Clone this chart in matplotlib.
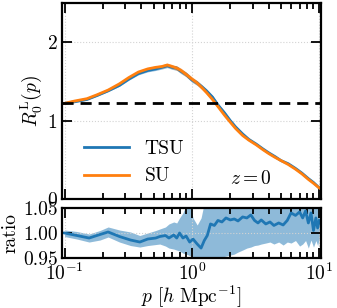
import matplotlib
matplotlib.use("Agg")
import matplotlib.pyplot as plt
import numpy as np
from matplotlib.ticker import FormatStrFormatter

plt.rcParams.update({
    "font.family": "serif",
    "font.serif": ["cmr10"],
    "mathtext.fontset": "cm",
    "axes.formatter.use_mathtext": True,
    "axes.unicode_minus": False,
    "font.size": 14,
})

# main curves
p_main = [0.10, 0.12, 0.15, 0.18, 0.22, 0.27, 0.32, 0.38, 0.45, 0.52, 0.58, 0.64,
          0.70, 0.76, 0.82, 0.90, 1.0, 1.1, 1.2, 1.3, 1.45, 1.6, 1.8, 2.0, 2.2,
          2.5, 2.8, 3.2, 3.6, 4.0, 4.5, 5.0, 5.7, 6.5, 7.3, 8.2, 9.0, 10.0]
R_su = [1.22, 1.25, 1.28, 1.33, 1.39, 1.47, 1.55, 1.62, 1.66, 1.68, 1.69, 1.71,
        1.69, 1.67, 1.64, 1.59, 1.53, 1.48, 1.42, 1.36, 1.27, 1.18, 1.07, 0.98, 0.90,
        0.81, 0.75, 0.69, 0.63, 0.58, 0.53, 0.49, 0.44, 0.38, 0.32, 0.25, 0.20, 0.14]
R_tsu = [1.22, 1.24, 1.27, 1.32, 1.38, 1.45, 1.53, 1.60, 1.64, 1.66, 1.68, 1.70,
         1.68, 1.67, 1.63, 1.59, 1.52, 1.48, 1.43, 1.38, 1.30, 1.20, 1.10, 1.00, 0.92,
         0.83, 0.76, 0.70, 0.64, 0.59, 0.54, 0.49, 0.45, 0.39, 0.33, 0.26, 0.21, 0.14]
err_main = [0.005, 0.006, 0.007, 0.008, 0.010, 0.012, 0.014, 0.016, 0.018, 0.020, 0.022, 0.024,
            0.026, 0.028, 0.030, 0.030, 0.030, 0.030, 0.028, 0.026, 0.024, 0.022, 0.020, 0.018, 0.016,
            0.014, 0.012, 0.010, 0.009, 0.008, 0.007, 0.006, 0.006, 0.005, 0.005, 0.004, 0.004, 0.004]
R_lin = 1.22

# ratio TSU/SU
p_rat = [0.10, 0.125, 0.156, 0.19, 0.22, 0.27, 0.33, 0.39, 0.45, 0.52, 0.56, 0.62,
         0.66, 0.72, 0.76, 0.80, 0.85, 0.90, 0.96, 1.02, 1.10, 1.18, 1.25, 1.32,
         1.40, 1.50, 1.60, 1.72, 1.85, 2.0, 2.15, 2.3, 2.5, 2.7, 2.9, 3.1, 3.3,
         3.5, 3.8, 4.1, 4.4, 4.8, 5.2, 5.6, 6.0, 6.5, 7.0, 7.4, 7.8, 8.2, 8.6,
         9.0, 9.4, 9.7, 10.0]
ratio = [1.000, 0.995, 0.990, 0.997, 1.002, 0.993, 0.986, 0.982, 0.988, 0.990, 0.993, 0.995,
         0.990, 0.996, 0.990, 1.000, 0.990, 0.994, 0.982, 0.988, 0.978, 0.970, 0.985, 0.995,
         1.018, 1.015, 1.025, 1.022, 1.030, 1.026, 1.028, 1.024, 1.032, 1.030, 1.036, 1.025, 1.020,
         1.026, 1.018, 1.022, 1.015, 1.020, 1.016, 1.025, 1.040, 1.035, 1.042, 1.030, 1.044, 1.020, 1.040,
         1.005, 1.030, 1.010, 1.025]
r_lo = [0.993, 0.988, 0.982, 0.986, 0.992, 0.982, 0.975, 0.972, 0.975, 0.977, 0.978, 0.974,
        0.970, 0.968, 0.966, 0.964, 0.960, 0.958, 0.955, 0.952, 0.948, 0.945, 0.945, 0.946,
        0.948, 0.948, 0.950, 0.952, 0.954, 0.956, 0.958, 0.962, 0.966, 0.970, 0.972, 0.975, 0.976,
        0.978, 0.980, 0.982, 0.978, 0.982, 0.976, 0.982, 0.980, 0.985, 0.974, 0.978, 0.985, 0.970, 0.986,
        0.972, 0.985, 0.975, 0.990]
r_hi = [1.006, 1.003, 0.998, 1.005, 1.012, 1.006, 1.002, 0.995, 1.000, 1.005, 1.008, 1.012,
        1.018, 1.022, 1.020, 1.030, 1.040, 1.055, 1.060, 1.030, 1.016, 1.030, 1.060, 1.065,
        1.070, 1.070, 1.070, 1.070, 1.070, 1.070, 1.070, 1.070, 1.070, 1.070, 1.070, 1.070, 1.070,
        1.070, 1.070, 1.070, 1.070, 1.070, 1.070, 1.070, 1.070, 1.070, 1.070, 1.070, 1.070, 1.070, 1.070,
        1.070, 1.070, 1.070, 1.070]

c_tsu = "#1f77b4"
c_su = "#ff7f0e"

fig = plt.figure(figsize=(3.37, 3.08), dpi=100)
ax = fig.add_axes([0.183, 0.354, 0.771, 0.636])
axr = fig.add_axes([0.183, 0.162, 0.771, 0.163], sharex=ax)

pm = np.array(p_main)
ax.fill_between(pm, np.array(R_tsu) - err_main, np.array(R_tsu) + err_main, color=c_tsu, alpha=0.5, lw=0)
ax.plot(pm, R_tsu, color=c_tsu, lw=2, label="TSU")
ax.fill_between(pm, np.array(R_su) - err_main, np.array(R_su) + err_main, color=c_su, alpha=0.5, lw=0)
ax.plot(pm, R_su, color=c_su, lw=2, label="SU")
ax.axhline(R_lin, color="k", ls="--", lw=2, dashes=(4, 2.5))

ax.set_xscale("log")
ax.set_xlim(0.095, 10.4)
ax.set_ylim(0, 2.5)
ax.set_yticks([0, 1, 2])
ax.set_ylabel(r"$R_0^{\rm L}(p)$", labelpad=2)
ax.tick_params(labelbottom=False)
ax.legend(loc="lower left", bbox_to_anchor=(0.02, -0.02), frameon=False, handlelength=2.3)
ax.text(0.73, 0.1, r"$z=0$", transform=ax.transAxes, ha="center", va="center")

axr.fill_between(p_rat, r_lo, r_hi, color=c_tsu, alpha=0.5, lw=0)
axr.plot(p_rat, ratio, color=c_tsu, lw=2)
axr.set_ylim(0.95, 1.05)
axr.set_yticks([0.95, 1.00, 1.05])
axr.yaxis.set_major_formatter(FormatStrFormatter("%.2f"))
axr.set_ylabel("ratio", labelpad=2)
axr.set_xlabel(r"$p\ [h\ {\rm Mpc}^{-1}]$", labelpad=0)

for a in (ax, axr):
    a.grid(True, which="major", ls=":", color="lightgray", lw=0.8)
    a.tick_params(which="both", direction="in", top=True, right=True, width=1.3, pad=3)
    a.tick_params(which="major", length=7)
    a.tick_params(which="minor", length=4)
    for s in a.spines.values():
        s.set_linewidth(1.6)

fig.savefig("out.png", dpi=100)
